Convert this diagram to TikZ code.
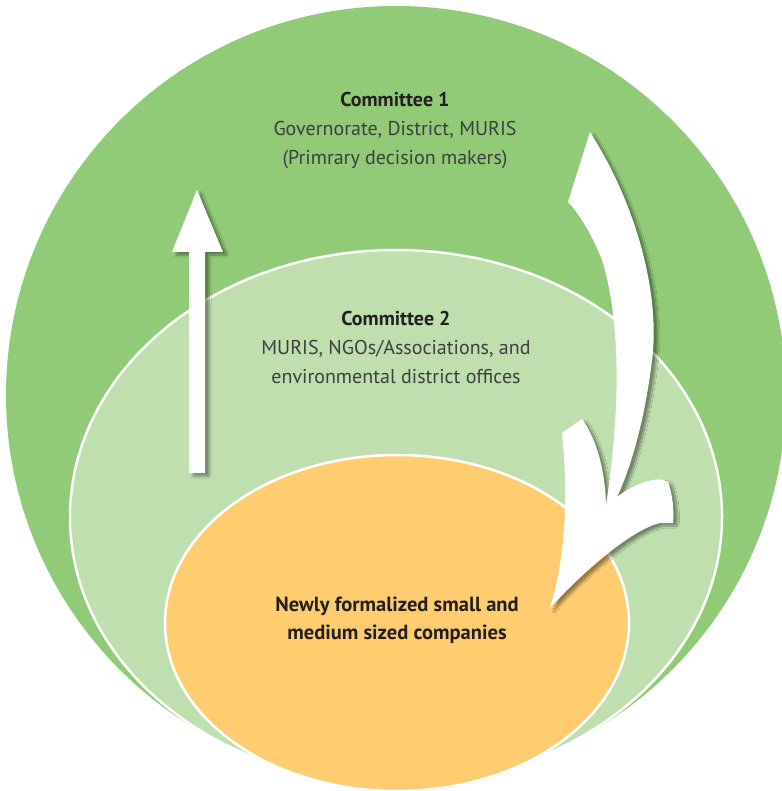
\documentclass[tikz,border=0pt]{standalone}
\usepackage{fontspec}
\setmainfont{PT Sans}
\usetikzlibrary{positioning, shadows.blur}
\definecolor{Green60}{RGB}{146, 203, 120}
\definecolor{Green30}{RGB}{191, 223, 175}
\definecolor{Yellow40}{RGB}{255, 205, 112}
\definecolor{Ink}{RGB}{35, 31, 32}
\definecolor{Grey70}{RGB}{62, 62, 62}
\tikzset{
    testo comitato/.style = {align=center, text=Grey70, inner sep=0pt, font=\fontsize{20}{29}\selectfont},
    testo imprese/.style = {align=center, text=Ink, inner sep=0pt, font=\bfseries\fontsize{20.5}{28}\selectfont},
    freccia bianca/.style = {fill=white, blur shadow={shadow xshift=4pt, shadow yshift=-3pt, shadow blur steps=12, shadow opacity=40}}
}

\begin{document}
\begin{tikzpicture}[
    x=1pt, y=-1pt,
    anello/.style = {draw=white, line width=2.5pt}
    ]
    \useasboundingbox (0,0) rectangle (781,791);

    %%% Circles
    % committee 1
    \fill[Green60] (396,395) ellipse [x radius=390, y radius=389];
    % committee 2
    \path[anello, fill=Green30] (396,517) ellipse [x radius=326, y radius=267];
    % companies
    \path[anello, fill=Yellow40] (397,623) ellipse [x radius=232, y radius=168];

    %%% Arrows
    % upwards
    \path[freccia bianca] (189,473) -- (189,252) -- (172,252) -- (197,190)
        -- (223,252) -- (205,252) -- (205,473) -- cycle;
    % downwards, curved
    \path[freccia bianca] (590,132) .. controls (640,210) and (660,300) .. (652,360)
        .. controls (645,420) and (630,470) .. (617,497)
        .. controls (635,483) and (660,475) .. (668,482)
        .. controls (673,495) and (674,512) .. (673,523)
        -- (660,523) .. controls (630,530) and (580,575) .. (550,608)
        .. controls (562,570) and (570,510) .. (562,433)
        -- (582,419) .. controls (597,440) and (605,470) .. (606,505)
        .. controls (616,440) and (625,340) .. (603,263)
        .. controls (595,240) and (580,215) .. (568,202) -- cycle;

    % labels
    \node[testo comitato] (comitato1) at (395,131)
        {{\color{Ink}\bfseries Committee 1}\\Governorate, District, MURIS\\(Primrary decision makers)};
    \node[testo comitato] (comitato2) at (396,347)
        {{\color{Ink}\bfseries Committee 2}\\MURIS, NGOs/Associations, and\\environmental district offices};
    \node[testo imprese] (imprese) at (397,620)
        {Newly formalized small and\\medium sized companies};
\end{tikzpicture}
\end{document}
